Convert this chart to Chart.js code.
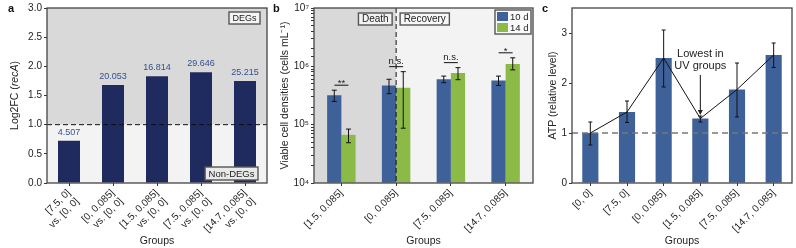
<!DOCTYPE html>
<html>
<head>
<meta charset="utf-8">
<script src="https://cdn.jsdelivr.net/npm/chart.js@4.4.1/dist/chart.umd.min.js"></script>
<style>
  body { margin: 0; background: #fff; }
  #wrap { position: relative; width: 796px; height: 248px; }
  canvas { position: absolute; top: 0; }
</style>
</head>
<body>
<div id="wrap">
  <canvas id="chartA" style="left:0px" width="270" height="248"></canvas>
  <canvas id="chartB" style="left:270px" width="266" height="248"></canvas>
  <canvas id="chartC" style="left:536px" width="260" height="248"></canvas>
</div>
<script>
// ---- data: panel a ----
const groupsA = [
  ['[7.5, 0]', 'vs. [0, 0]'],
  ['[0, 0.085]', 'vs. [0, 0]'],
  ['[1.5, 0.085]', 'vs. [0, 0]'],
  ['[7.5, 0.085]', 'vs. [0, 0]'],
  ['[14.7, 0.085]', 'vs. [0, 0]']
];
const log2fc = [0.725, 1.68, 1.83, 1.90, 1.75];
const fcLabels = ['4.507', '20.053', '16.814', '29.646', '25.215'];

// ---- data: panel b ----
const groupsB = ['[1.5, 0.085]', '[0, 0.085]', '[7.5, 0.085]', '[14.7, 0.085]'];
const cells10d = [3.2e5, 4.7e5, 6.0e5, 5.7e5];
const cells10dLow = [2.5e5, 3.4e5, 5.25e5, 4.7e5];
const cells10dHigh = [3.9e5, 6.0e5, 6.8e5, 6.8e5];
const cells14d = [6.7e4, 4.3e5, 7.7e5, 1.1e6];
const cells14dLow = [4.9e4, 8.7e4, 5.9e5, 8.7e5];
const cells14dHigh = [8.4e4, 8.1e5, 9.5e5, 1.4e6];
const sigMarks = ['**', 'n.s.', 'n.s.', '*'];

// ---- data: panel c ----
const groupsC = ['[0, 0]', '[7.5, 0]', '[0, 0.085]', '[1.5, 0.085]', '[7.5, 0.085]', '[14.7, 0.085]'];
const atpLevel = [1.0, 1.42, 2.50, 1.29, 1.87, 2.56];
const atpLow = [0.76, 1.21, 1.92, 1.22, 1.32, 2.31];
const atpHigh = [1.22, 1.64, 3.06, 1.34, 2.40, 2.80];

const FONT = '"Liberation Sans", Arial, sans-serif';
Chart.defaults.font.family = FONT;
Chart.defaults.font.size = 10;
Chart.defaults.color = '#222';
Chart.defaults.animation = false;

// x axis shared by all three panels
function xAxis() {
  return {
    grid: { display: true, drawOnChartArea: false, offset: false, tickLength: 3, color: '#333' },
    border: { display: false },
    ticks: { maxRotation: 45, minRotation: 45, autoSkip: false, padding: 1, font: { size: 10 } },
    title: { display: true, text: 'Groups', font: { size: 10.5 }, padding: { top: 0, bottom: 1 } },
    afterFit: s => { s.height = 65; }
  };
}

// y axis shared settings, width fixes the plot's left edge
function yAxis(width) {
  return {
    grid: { display: true, drawOnChartArea: false, tickLength: 3, color: '#333' },
    border: { display: false },
    ticks: { padding: 2, font: { size: 10 } },
    afterFit: s => { s.width = width; }
  };
}

// box around the plot area
function drawFrame(chart) {
  const { ctx, chartArea: a } = chart;
  ctx.save();
  ctx.strokeStyle = '#444';
  ctx.lineWidth = 1.3;
  ctx.strokeRect(a.left, a.top, a.right - a.left, a.bottom - a.top);
  ctx.restore();
}

// rotated y title, parts can be italic
function drawYTitle(chart, parts, x) {
  const { ctx, chartArea: a } = chart;
  ctx.save();
  ctx.fillStyle = '#222';
  ctx.textBaseline = 'middle';
  let total = 0;
  parts.forEach(p => {
    ctx.font = (p.italic ? 'italic ' : '') + '10.5px ' + FONT;
    p.w = ctx.measureText(p.text).width;
    total += p.w;
  });
  ctx.translate(x, (a.top + a.bottom) / 2);
  ctx.rotate(-Math.PI / 2);
  let cx = -total / 2;
  ctx.textAlign = 'left';
  parts.forEach(p => {
    ctx.font = (p.italic ? 'italic ' : '') + '10.5px ' + FONT;
    ctx.fillText(p.text, cx, 0);
    cx += p.w;
  });
  ctx.restore();
}

function drawLetter(chart, letter, x) {
  const ctx = chart.ctx;
  ctx.save();
  ctx.font = 'bold 11px ' + FONT;
  ctx.fillStyle = '#111';
  ctx.textAlign = 'left';
  ctx.textBaseline = 'middle';
  ctx.fillText(letter, x, 9);
  ctx.restore();
}

// small framed label; (x, y) is the top-left corner
function drawBox(ctx, text, x, y, h, size, fill) {
  ctx.save();
  ctx.font = size + 'px ' + FONT;
  const w = ctx.measureText(text).width + 7;
  ctx.fillStyle = fill;
  ctx.fillRect(x, y, w, h);
  ctx.strokeStyle = '#555';
  ctx.lineWidth = 1.4;
  ctx.strokeRect(x, y, w, h);
  ctx.fillStyle = '#222';
  ctx.textAlign = 'center';
  ctx.textBaseline = 'middle';
  ctx.fillText(text, x + w / 2, y + h / 2 + 0.5);
  ctx.restore();
  return w;
}

function boxWidth(ctx, text, size) {
  ctx.save();
  ctx.font = size + 'px ' + FONT;
  const w = ctx.measureText(text).width + 7;
  ctx.restore();
  return w;
}

// error bars for one dataset, placed on the library's own bar elements
function drawErrors(chart, dsIndex, low, high, cap) {
  const { ctx } = chart;
  const y = chart.scales.y;
  const meta = chart.getDatasetMeta(dsIndex);
  ctx.save();
  ctx.strokeStyle = '#111';
  ctx.lineWidth = 1;
  meta.data.forEach((bar, i) => {
    const x = bar.x;
    const y1 = y.getPixelForValue(low[i]);
    const y2 = y.getPixelForValue(high[i]);
    ctx.beginPath();
    ctx.moveTo(x, y1); ctx.lineTo(x, y2);
    ctx.moveTo(x - cap, y1); ctx.lineTo(x + cap, y1);
    ctx.moveTo(x - cap, y2); ctx.lineTo(x + cap, y2);
    ctx.stroke();
  });
  ctx.restore();
}

// ---------------- panel a ----------------
const panelA = {
  id: 'panelA',
  beforeDatasetsDraw(chart) {
    const { ctx, chartArea: a, scales: { y } } = chart;
    const y1 = y.getPixelForValue(1);
    ctx.save();
    ctx.fillStyle = '#d9d9d9';
    ctx.fillRect(a.left, a.top, a.right - a.left, y1 - a.top);
    ctx.fillStyle = '#f3f3f3';
    ctx.fillRect(a.left, y1, a.right - a.left, a.bottom - y1);
    ctx.restore();
  },
  afterDatasetsDraw(chart) {
    const { ctx, chartArea: a, scales: { y } } = chart;
    const y1 = y.getPixelForValue(1);
    ctx.save();
    ctx.strokeStyle = '#111';
    ctx.lineWidth = 1;
    ctx.setLineDash([5, 3]);
    ctx.beginPath();
    ctx.moveTo(a.left, y1); ctx.lineTo(a.right, y1);
    ctx.stroke();
    ctx.setLineDash([]);
    // numbers above the bars
    ctx.font = '9px ' + FONT;
    ctx.fillStyle = '#33508f';
    ctx.textAlign = 'center';
    ctx.textBaseline = 'bottom';
    chart.getDatasetMeta(0).data.forEach((bar, i) => {
      ctx.fillText(fcLabels[i], bar.x, bar.y - 4);
    });
    ctx.restore();
    const wD = boxWidth(ctx, 'DEGs', 9);
    drawBox(ctx, 'DEGs', a.right - 7 - wD, a.top + 4, 12, 9, '#f4f4f4');
    const wN = boxWidth(ctx, 'Non-DEGs', 9.5);
    drawBox(ctx, 'Non-DEGs', a.right - 9 - wN, a.bottom - 16, 13, 9.5, '#e8e8e8');
    drawFrame(chart);
    drawYTitle(chart, [{ text: 'Log2FC (' }, { text: 'recA', italic: true }, { text: ')' }], 15);
    drawLetter(chart, 'a', 8);
  }
};

new Chart(document.getElementById('chartA'), {
  type: 'bar',
  data: {
    labels: groupsA,
    datasets: [{
      data: log2fc,
      backgroundColor: '#1f2b5e',
      barPercentage: 0.5,
      categoryPercentage: 1
    }]
  },
  options: {
    responsive: false,
    layout: { padding: { left: 0, right: 3, top: 8, bottom: 0 } },
    plugins: { legend: { display: false }, tooltip: { enabled: false } },
    scales: {
      x: xAxis(),
      y: Object.assign(yAxis(47), {
        min: 0, max: 3,
        ticks: { padding: 2, font: { size: 10 }, stepSize: 0.5, callback: v => v.toFixed(1) }
      })
    }
  },
  plugins: [panelA]
});

// ---------------- panel b ----------------
const supDigits = { 4: '⁴', 5: '⁵', 6: '⁶', 7: '⁷' };

const panelB = {
  id: 'panelB',
  beforeDatasetsDraw(chart) {
    const { ctx, chartArea: a, scales: { x } } = chart;
    const xd = x.getPixelForValue(1);
    ctx.save();
    ctx.fillStyle = '#d9d9d9';
    ctx.fillRect(a.left, a.top, xd - a.left, a.bottom - a.top);
    ctx.fillStyle = '#f3f3f3';
    ctx.fillRect(xd, a.top, a.right - xd, a.bottom - a.top);
    ctx.restore();
  },
  afterDatasetsDraw(chart) {
    const { ctx, chartArea: a, scales: { x, y } } = chart;
    drawErrors(chart, 0, cells10dLow, cells10dHigh, 2.5);
    drawErrors(chart, 1, cells14dLow, cells14dHigh, 2.5);
    const xd = x.getPixelForValue(1);
    ctx.save();
    ctx.strokeStyle = '#111';
    ctx.lineWidth = 1;
    ctx.setLineDash([5, 3]);
    ctx.beginPath();
    ctx.moveTo(xd, a.top); ctx.lineTo(xd, a.bottom);
    ctx.stroke();
    ctx.setLineDash([]);
    // significance marks
    ctx.font = '9.5px ' + FONT;
    ctx.fillStyle = '#222';
    ctx.textAlign = 'center';
    ctx.textBaseline = 'bottom';
    sigMarks.forEach((m, i) => {
      const cx = x.getPixelForValue(i);
      const top = Math.min(y.getPixelForValue(cells10dHigh[i]), y.getPixelForValue(cells14dHigh[i]));
      const ly = top - 5;
      ctx.beginPath();
      ctx.moveTo(cx - 7, ly); ctx.lineTo(cx + 7, ly);
      ctx.stroke();
      ctx.fillText(m, cx, ly - 1 + (m.indexOf('*') >= 0 ? 4 : 0));
    });
    ctx.restore();
    const wDeath = boxWidth(ctx, 'Death', 10);
    drawBox(ctx, 'Death', xd - 4 - wDeath, a.top + 5, 12, 10, '#f2f2f2');
    drawBox(ctx, 'Recovery', xd + 4, a.top + 5, 12, 10, '#f7f7f7');
    // legend
    const lx = a.right - 38, ly = a.top + 2;
    ctx.save();
    ctx.fillStyle = '#fafafa';
    ctx.fillRect(lx, ly, 36, 24);
    ctx.strokeStyle = '#555';
    ctx.lineWidth = 1.4;
    ctx.strokeRect(lx, ly, 36, 24);
    ctx.font = '9.5px ' + FONT;
    ctx.textAlign = 'left';
    ctx.textBaseline = 'middle';
    chart.data.datasets.forEach((ds, i) => {
      ctx.fillStyle = ds.backgroundColor;
      ctx.fillRect(lx + 2, ly + 2 + i * 11, 11, 9);
      ctx.fillStyle = '#222';
      ctx.fillText(ds.label, lx + 15, ly + 7 + i * 11);
    });
    ctx.restore();
    drawFrame(chart);
    drawYTitle(chart, [{ text: 'Viable cell densities (cells mL⁻¹)' }], 15);
    drawLetter(chart, 'b', 3);
  }
};

new Chart(document.getElementById('chartB'), {
  type: 'bar',
  data: {
    labels: groupsB,
    datasets: [
      { label: '10 d', data: cells10d, backgroundColor: '#3e6199', base: 1e4,
        barPercentage: 1, categoryPercentage: 0.52 },
      { label: '14 d', data: cells14d, backgroundColor: '#8bbb46', base: 1e4,
        barPercentage: 1, categoryPercentage: 0.52 }
    ]
  },
  options: {
    responsive: false,
    layout: { padding: { left: 0, right: 3, top: 8, bottom: 0 } },
    plugins: { legend: { display: false }, tooltip: { enabled: false } },
    scales: {
      x: xAxis(),
      y: Object.assign(yAxis(44), {
        type: 'logarithmic',
        min: 1e4, max: 1e7,
        ticks: {
          padding: 2, font: { size: 10 }, autoSkip: false,
          callback: v => {
            const e = Math.log10(v);
            const r = Math.round(e);
            return Math.abs(e - r) < 1e-9 ? '10' + supDigits[r] : '';
          }
        }
      })
    }
  },
  plugins: [panelB]
});

// ---------------- panel c ----------------
const panelC = {
  id: 'panelC',
  afterDatasetsDraw(chart) {
    const { ctx, chartArea: a, scales: { x, y } } = chart;
    // dashed reference line at 1, drawn over the bars
    const y1 = y.getPixelForValue(1);
    ctx.save();
    ctx.strokeStyle = '#777';
    ctx.lineWidth = 1.5;
    ctx.setLineDash([6, 4]);
    ctx.beginPath();
    ctx.moveTo(a.left, y1); ctx.lineTo(a.right, y1);
    ctx.stroke();
    ctx.restore();
    drawErrors(chart, 0, atpLow, atpHigh, 2);
    // annotation on the lowest UV group
    const cx = x.getPixelForValue(3);
    const tip = y.getPixelForValue(atpHigh[3]) - 1;
    ctx.save();
    ctx.fillStyle = '#222';
    ctx.strokeStyle = '#111';
    ctx.font = '11px ' + FONT;
    ctx.textAlign = 'center';
    ctx.textBaseline = 'middle';
    ctx.fillText('Lowest in', cx, tip - 61);
    ctx.fillText('UV groups', cx, tip - 49);
    ctx.lineWidth = 1;
    ctx.beginPath();
    ctx.moveTo(cx, tip - 40); ctx.lineTo(cx, tip - 3);
    ctx.stroke();
    ctx.beginPath();
    ctx.moveTo(cx, tip); ctx.lineTo(cx - 2.5, tip - 5); ctx.lineTo(cx + 2.5, tip - 5);
    ctx.closePath();
    ctx.fill();
    ctx.restore();
    drawFrame(chart);
    drawYTitle(chart, [{ text: 'ATP (relative level)' }], 17);
    drawLetter(chart, 'c', 6);
  }
};

new Chart(document.getElementById('chartC'), {
  type: 'bar',
  data: {
    labels: groupsC,
    datasets: [
      { type: 'bar', data: atpLevel, backgroundColor: '#3e6199',
        barPercentage: 0.44, categoryPercentage: 1, order: 1 },
      { type: 'line', data: atpLevel, borderColor: '#111', borderWidth: 1,
        pointRadius: 0, fill: false, tension: 0, order: 0 }
    ]
  },
  options: {
    responsive: false,
    layout: { padding: { left: 0, right: 4, top: 8, bottom: 0 } },
    plugins: { legend: { display: false }, tooltip: { enabled: false } },
    scales: {
      x: xAxis(),
      y: Object.assign(yAxis(36), {
        min: 0, max: 3.5,
        ticks: { padding: 2, font: { size: 10 }, stepSize: 1 },
        afterBuildTicks: s => { s.ticks = s.ticks.filter(t => Number.isInteger(t.value)); }
      })
    }
  },
  plugins: [panelC]
});
</script>
</body>
</html>
